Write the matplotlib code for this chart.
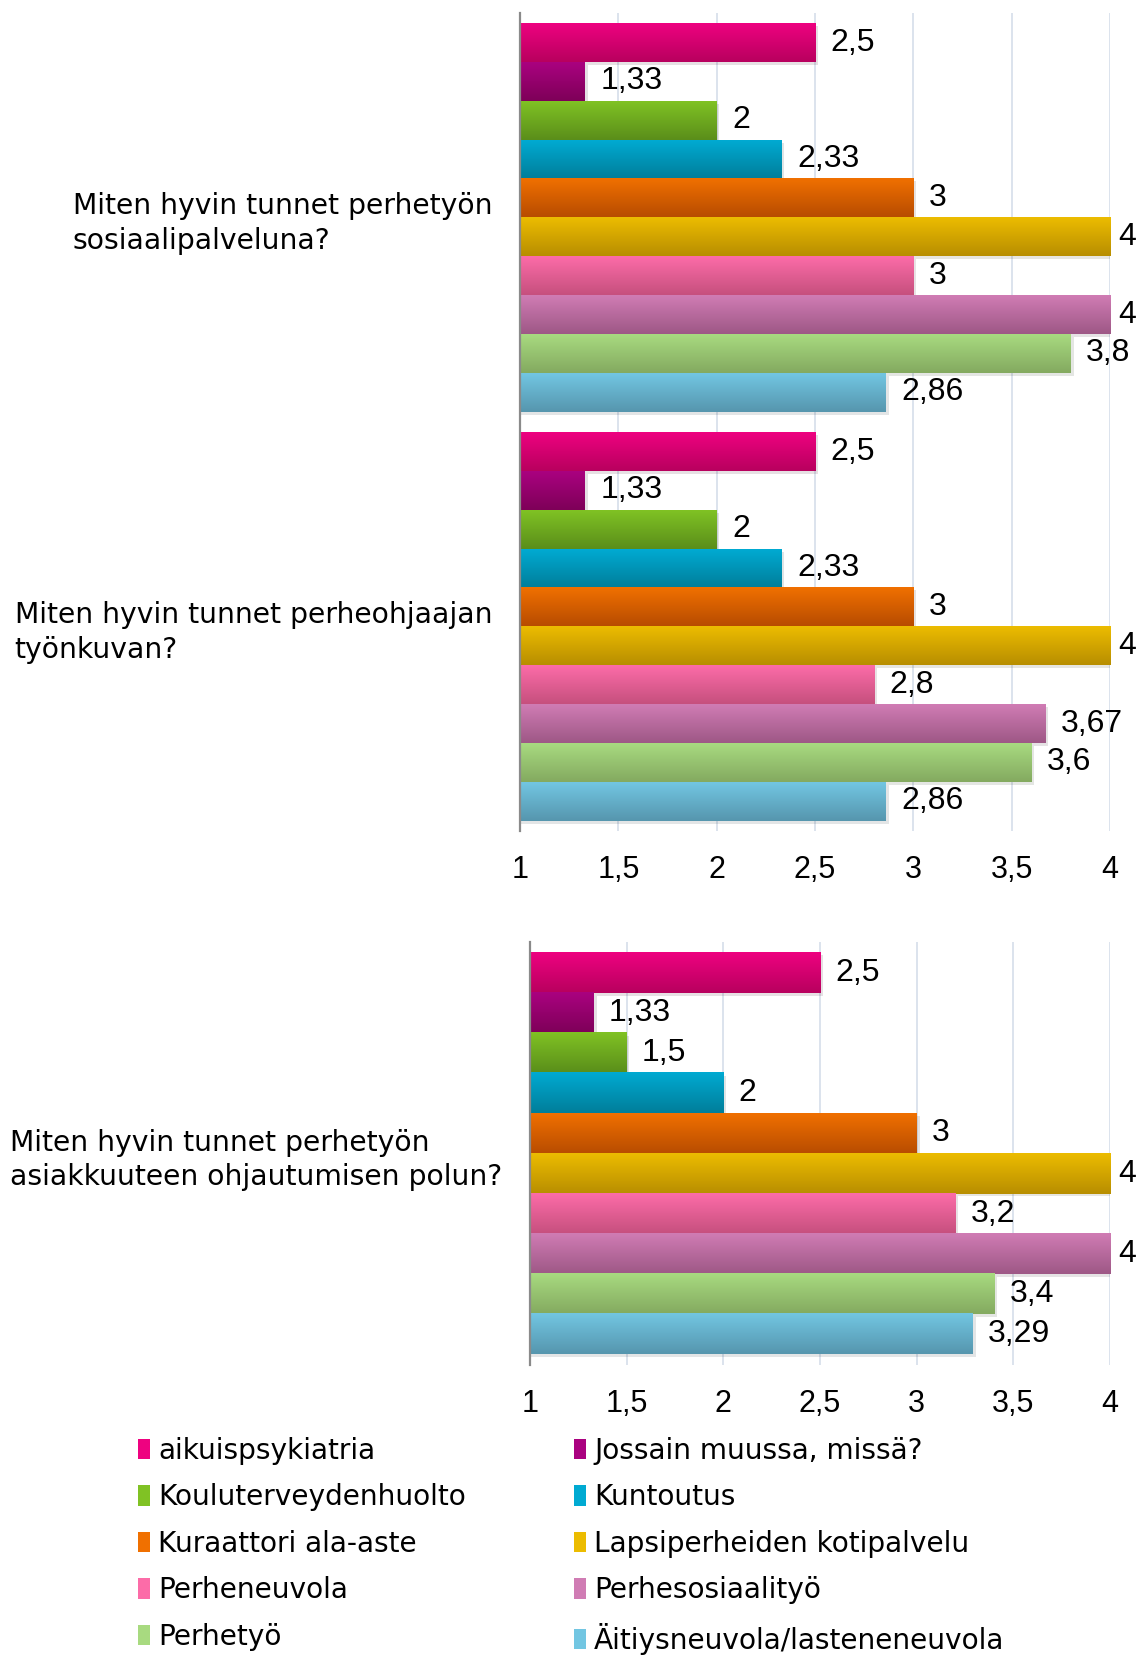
import numpy as np
from matplotlib import pyplot as plt
from matplotlib.colors import LinearSegmentedColormap
from matplotlib.patches import Patch
import matplotlib.patheffects as pe

series = [
    "aikuispsykiatria",
    "Jossain muussa, missä?",
    "Kouluterveydenhuolto",
    "Kuntoutus",
    "Kuraattori ala-aste",
    "Lapsiperheiden kotipalvelu",
    "Perheneuvola",
    "Perhesosiaalityö",
    "Perhetyö",
    "Äitiysneuvola/lasteneneuvola",
]
# gradient top / bottom colour for each series
top_colors = ["#EE0280", "#AA0280", "#80C224", "#00AAD2", "#F07000",
              "#ECBC00", "#FC6CA8", "#D07CB4", "#A8DA80", "#72C6E2"]
bottom_colors = ["#B8005E", "#7E0058", "#5A8E1A", "#007E9A", "#B84C00",
                 "#B88E00", "#C6507E", "#9E5886", "#84AA60", "#5696AE"]

questions_top = ["Miten hyvin tunnet perhetyön\nsosiaalipalveluna?",
                 "Miten hyvin tunnet perheohjaajan\ntyönkuvan?"]
values_top = [
    [2.5, 1.33, 2, 2.33, 3, 4, 3, 4, 3.8, 2.86],
    [2.5, 1.33, 2, 2.33, 3, 4, 2.8, 3.67, 3.6, 2.86],
]
questions_bottom = ["Miten hyvin tunnet perhetyön\nasiakkuuteen ohjautumisen polun?"]
values_bottom = [
    [2.5, 1.33, 1.5, 2, 3, 4, 3.2, 4, 3.4, 3.29],
]

xticks = [1, 1.5, 2, 2.5, 3, 3.5, 4]
xtick_labels = ["1", "1,5", "2", "2,5", "3", "3,5", "4"]

LABEL_FONT = "DejaVu Sans"
NUM_FONT = "Liberation Sans"


def fmt(v):
    return f"{v:g}".replace(".", ",")


def draw_chart(ax, questions, values):
    n = len(series)
    group = 0.95
    h = group / n
    grad = np.linspace(0, 1, 64).reshape(-1, 1)
    for qi, vals in enumerate(values):
        for si, v in enumerate(vals):
            y = qi - group / 2 + (si + 0.5) * h
            bar = ax.barh(y, v, height=h, color=bottom_colors[si], zorder=2)[0]
            bar.set_path_effects([pe.SimplePatchShadow(offset=(2, -2), alpha=0.12), pe.Normal()])
            cmap = LinearSegmentedColormap.from_list("g", [top_colors[si], bottom_colors[si]])
            x0, y0 = bar.get_x(), bar.get_y()
            ax.imshow(grad, cmap=cmap, aspect="auto", origin="upper",
                      extent=(x0, x0 + bar.get_width(), y0 + bar.get_height(), y0),
                      zorder=3, interpolation="bilinear")
            # labels at the axis end sit closer to the bar
            off = 6 if v >= xticks[-1] else 11
            ax.annotate(fmt(v), (v, y), xytext=(off, 0), textcoords="offset points",
                        va="center", ha="left", fontsize=23, family=NUM_FONT,
                        annotation_clip=False, zorder=4)
    ax.set_xlim(1, 4)
    ax.set_ylim(len(questions) - 0.5, -0.5)
    ax.set_xticks(xticks)
    ax.set_xticklabels(xtick_labels, family=NUM_FONT, fontsize=22)
    ax.set_yticks(range(len(questions)))
    ax.set_yticklabels(questions, family=LABEL_FONT, fontsize=20.3)
    for lab in ax.get_yticklabels():
        lab.set_multialignment("left")
        lab.set_linespacing(1.3)
    ax.tick_params(axis="y", length=0, pad=20)
    ax.tick_params(axis="x", length=0, pad=17)
    ax.xaxis.grid(True, color="#D9E1EC", lw=1.3)
    ax.set_axisbelow(True)
    for s in ["top", "right", "bottom"]:
        ax.spines[s].set_visible(False)
    ax.spines["left"].set_color("#8A8A8A")
    ax.spines["left"].set_linewidth(1.6)
    ax.spines["left"].set_zorder(5)


fig = plt.figure(figsize=(11.41, 16.6), dpi=100)
ax1 = fig.add_axes([0.4557, 0.4994, 0.5173, 0.4928])
draw_chart(ax1, questions_top, values_top)
ax2 = fig.add_axes([0.4645, 0.1777, 0.5085, 0.2548])
draw_chart(ax2, questions_bottom, values_bottom)

handles = [Patch(facecolor=c) for c in top_colors]
order = [0, 2, 4, 6, 8, 1, 3, 5, 7, 9]
fig.legend([handles[i] for i in order], [series[i] for i in order],
           loc="upper left", bbox_to_anchor=(0.121, 0.1345), ncol=2, frameon=False,
           prop={"family": LABEL_FONT, "size": 20.2}, handlelength=0.42, handleheight=0.75,
           handletextpad=0.3, columnspacing=3.85, labelspacing=0.66, borderpad=0,
           borderaxespad=0)

fig.savefig("out.png", dpi=100)
